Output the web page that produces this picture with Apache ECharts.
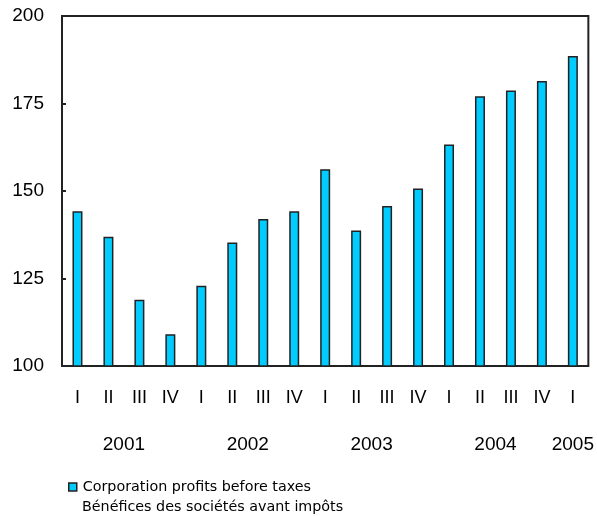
<!DOCTYPE html>
<html><head><meta charset="utf-8">
<script src="https://cdn.jsdelivr.net/npm/echarts@6/dist/echarts.min.js"></script>
<style>html,body{margin:0;padding:0;background:#fff}#c{width:597px;height:516px}</style>
</head><body><div id="c"></div>
<script>
var quarters = ['I','II','III','IV','I','II','III','IV','I','II','III','IV','I','II','III','IV','I'];
var years = ['2001','2002','2003','2004','2005'];
var quartersPerYear = [4,4,4,4,1];
var profits = [144.2,136.9,118.9,109.1,122.9,135.3,142.0,144.2,156.2,138.7,145.7,150.7,163.3,177.1,178.7,181.4,188.6];
var yTicks = [100,125,150,175,200];
var legendLines = ['Corporation profits before taxes', 'Bénéfices des sociétés avant impôts'];
var seriesName = legendLines.join('\n');

// year label positions = centre of each year's quarters on a 0..N value scale
var yearPos = [], acc = 0;
quartersPerYear.forEach(function(n){ yearPos.push(acc + n/2); acc += n; });

var font = "'Liberation Sans', Arial, sans-serif";
var legendFont = "'DejaVu Sans', sans-serif";
var chart = echarts.init(document.getElementById('c'), null, {renderer:'canvas'});
chart.setOption({
  animation:false,
  grid:{left:62, top:16, right:6, bottom:150, show:true, borderColor:'#222', borderWidth:2, backgroundColor:'transparent'},
  xAxis:[{
    type:'category', data:quarters, boundaryGap:true,
    axisLine:{show:false}, axisTick:{show:false},
    axisLabel:{color:'#000', fontFamily:font, fontSize:18, margin:23, interval:0}
  },{
    type:'value', min:0, max:quarters.length, position:'bottom',
    axisLine:{show:false}, axisTick:{show:false}, splitLine:{show:false},
    axisLabel:{color:'#000', fontFamily:font, fontSize:19, margin:69,
      customValues:yearPos,
      formatter:function(v){ var i=yearPos.indexOf(v); return i>=0?years[i]:''; }}
  }],
  yAxis:{
    type:'value', min:yTicks[0], max:yTicks[yTicks.length-1], interval:25,
    axisLine:{show:true, lineStyle:{color:'#222', width:2}},
    axisTick:{show:true, inside:true, length:4, lineStyle:{color:'#222', width:2}},
    splitLine:{show:false},
    axisLabel:{color:'#000', fontFamily:font, fontSize:19, margin:18}
  },
  legend:[{
    left:68, top:480, padding:0, icon:'rect', itemWidth:8, itemHeight:8,
    itemStyle:{borderColor:'#222', borderWidth:1.5},
    textStyle:{color:'#000', fontFamily:legendFont, fontSize:14.3, padding:[0,0,0,1]},
    formatter:function(){ return legendLines[0]; },
    data:[seriesName], selectedMode:false
  },{
    left:68, top:500, padding:0, icon:'none', itemWidth:8, itemHeight:8,
    textStyle:{color:'#000', fontFamily:legendFont, fontSize:14.3, padding:[0,0,0,1]},
    formatter:function(){ return legendLines[1]; },
    data:[seriesName], selectedMode:false
  }],
  series:[{
    name:seriesName, type:'bar', data:profits, barWidth:10,
    itemStyle:{color:'#00ccff', borderColor:'#222', borderWidth:1.5}
  }]
});
</script></body></html>
